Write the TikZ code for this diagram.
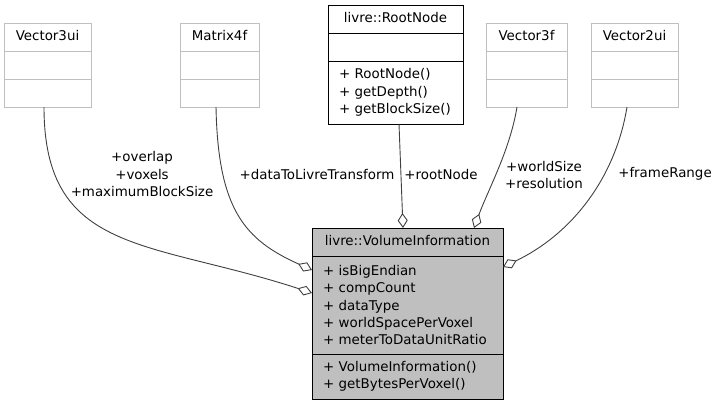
\documentclass[tikz,border=0pt]{standalone}
\usepackage{fontspec}
\setmainfont{DejaVu Sans}
\usepackage{xcolor}
\definecolor{edgegrey}{RGB}{64,64,64}
\definecolor{boxgrey}{RGB}{191,191,191}
\usepackage{tikz}
\usetikzlibrary{positioning}
\usetikzlibrary{arrows.meta}
\newcommand{\heightrow}{28pt}
\newcommand{\indentmember}{11pt}
\newcommand{\labelfont}{\fontsize{13.4}{17.3}\selectfont}
\tikzset{
    common/.style={draw, rectangle, outer sep=0pt, inner sep=0pt, line width=1pt, minimum height=\heightrow, font=\labelfont},
    header/.style={common, text height=9.5pt, text depth=3pt},
    ext/.style={header, draw=boxgrey},
    extpart/.style={common, draw=boxgrey},
    plain/.style={header},
    cls/.style={header, fill=boxgrey},
    members/.style={common, align=left, inner xsep=\indentmember},
    tag/.style={font=\labelfont, align=center, inner sep=0pt},
    aggr/.style={edgegrey, line width=0.9pt, -{Diamond[open, length=15pt, width=10pt]}}
}
\begin{document}
\begin{tikzpicture}[x=1pt, y=-1pt]
      \useasboundingbox (0,0) rectangle (717,405);

      % used classes
      \node[ext, minimum width=87pt] (v3ui) at (47.5,37) {Vector3ui};
      \node[extpart, minimum width=87pt, below=0pt of v3ui] (v3ui-attr) {};
      \node[extpart, minimum width=87pt, below=0pt of v3ui-attr] (v3ui-meth) {};

      \node[ext, minimum width=79pt] (m4f) at (219.5,37) {Matrix4f};
      \node[extpart, minimum width=79pt, below=0pt of m4f] (m4f-attr) {};
      \node[extpart, minimum width=79pt, below=0pt of m4f-attr] (m4f-meth) {};

      \node[plain, minimum width=135pt] (root) at (395.5,19) {livre::RootNode};
      \node[common, minimum width=135pt, below=0pt of root] (root-attr) {};
      \node[members, text width=113pt, minimum height=63pt, below=0pt of root-attr] (root-meth)
          {+ RootNode()\\+ getDepth()\\+ getBlockSize()};

      \node[ext, minimum width=81pt] (v3f) at (526.5,37) {Vector3f};
      \node[extpart, minimum width=81pt, below=0pt of v3f] (v3f-attr) {};
      \node[extpart, minimum width=81pt, below=0pt of v3f-attr] (v3f-meth) {};

      \node[ext, minimum width=87pt] (v2ui) at (634.5,37) {Vector2ui};
      \node[extpart, minimum width=87pt, below=0pt of v2ui] (v2ui-attr) {};
      \node[extpart, minimum width=87pt, below=0pt of v2ui-attr] (v2ui-meth) {};

      % the class itself
      \node[cls, minimum width=191pt] (vi) at (407.5,242) {livre::VolumeInformation};
      \node[members, fill=boxgrey, text width=169pt, minimum height=98pt, below=0pt of vi] (vi-attr)
          {+ isBigEndian\\+ compCount\\+ dataType\\+ worldSpacePerVoxel\\+ meterToDataUnitRatio};
      \node[members, fill=boxgrey, text width=169pt, minimum height=45pt, below=0pt of vi-attr] (vi-meth)
          {+ VolumeInformation()\\+ getBytesPerVoxel()};

      \draw[aggr] ([xshift=-3.5pt]v3ui-meth.south) .. controls +(0,148) and +(-162,-53) .. ([yshift=12pt]vi-attr.west);
      \draw[aggr] ([xshift=-3.5pt]m4f-meth.south) .. controls +(2,103) and +(-67,-30) .. ([yshift=35pt]vi-attr.west);
      \draw[aggr] ([xshift=3.5pt]root-meth.south) -- ([xshift=-4.5pt]vi.north);
      \draw[aggr] ([xshift=-9.5pt]v3f-meth.south) .. controls +(-7,43) and +(14,-38) .. ([xshift=66.5pt]vi.north);
      \draw[aggr] ([xshift=-7.5pt]v2ui-meth.south) .. controls +(-12,73) and +(67,-32) .. ([yshift=38pt]vi-attr.east);

      \node[tag] (v3ui-role) at (142,174) {+overlap\\+voxels\\+maximumBlockSize};
      \node[tag] (m4f-role) at (317,174) {+dataToLivreTransform};
      \node[tag] (root-role) at (441,174) {+rootNode};
      \node[tag] (v3f-role) at (544,175) {+worldSize\\+resolution};
      \node[tag] (v2ui-role) at (665,174) {+frameRange};
\end{tikzpicture}
\end{document}
